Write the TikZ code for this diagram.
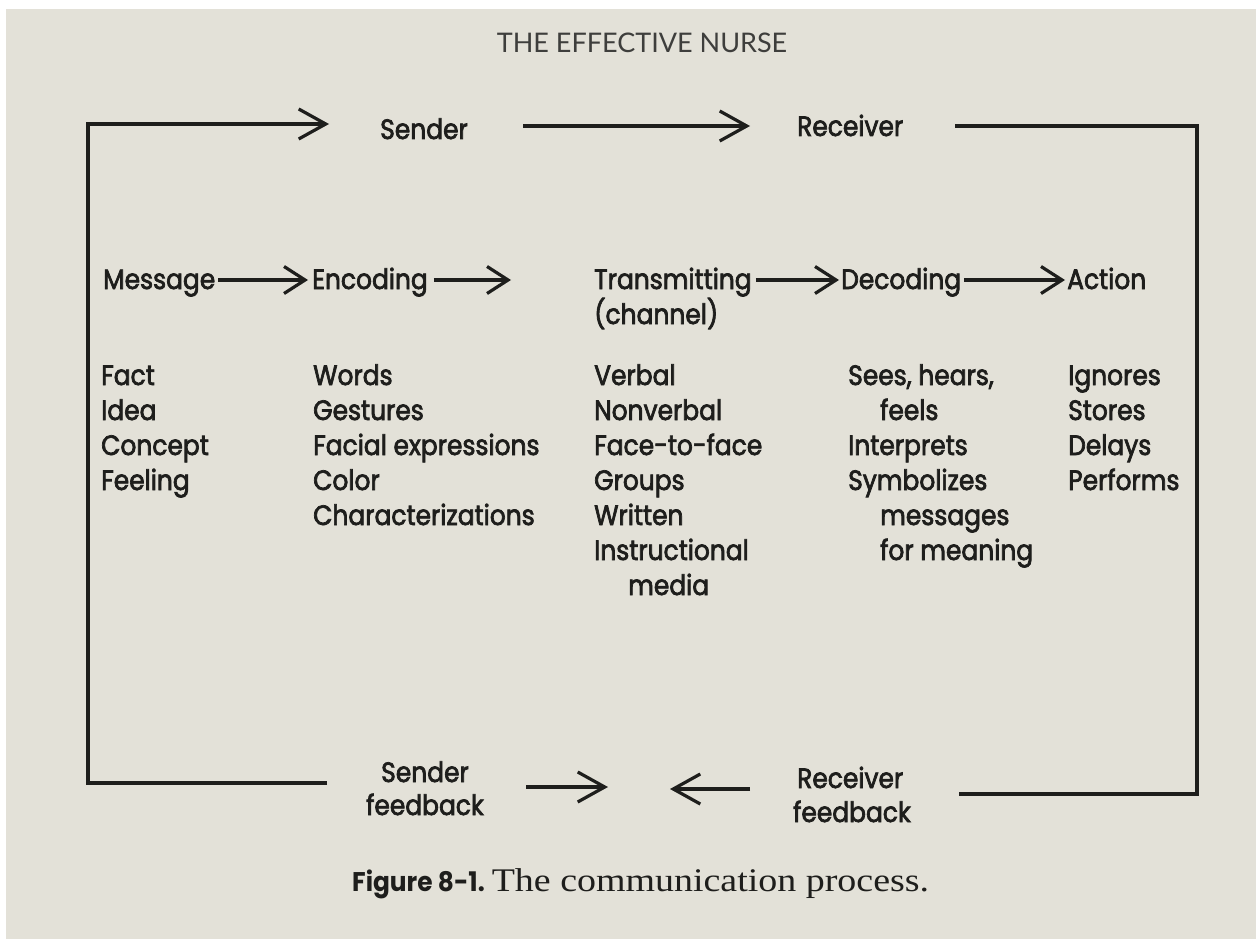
\documentclass[tikz,border=0pt]{standalone}
\usepackage{fontspec}
\usetikzlibrary{arrows.meta}
\newfontfamily\diag{Poppins}[FakeBold=2.5,FakeStretch=0.89]
\newfontfamily\diagb{Poppins}[FakeStretch=0.92]
\newfontfamily\ttl{Lato}
\newfontfamily\capserif{Liberation Serif}[FakeStretch=1.15]
\definecolor{ink}{RGB}{30,30,28}
\definecolor{paper}{RGB}{227,225,216}
\definecolor{titleink}{RGB}{62,62,60}
\begin{document}
\begin{tikzpicture}[x=1pt,y=-1pt,
  lbl/.style={inner sep=0pt,anchor=base west,text=ink,font=\diag\fontsize{28}{30}\selectfont},
  frame/.style={draw=ink,line width=3.2pt,line join=miter},
  bigarrow/.style={-{Straight Barb[length=27pt,width=30pt]}},
  midarrow/.style={-{Straight Barb[length=21pt,width=27pt]}}]
\useasboundingbox (0,0) rectangle (1256,939);
\fill[white] (0,0) rectangle (1256,939);
\fill[paper] (6,9) rectangle (1256,939);

% title
\node[inner sep=0pt,anchor=base,text=titleink,font=\ttl\fontsize{27}{30}\selectfont] (title) at (642,53) {THE EFFECTIVE NURSE};

% top row
\node[lbl] (sender) at (380,139) {Sender};
\node[lbl] (receiver) at (797,136) {Receiver};

% middle row
\node[lbl] (msg) at (103,289) {Message};
\node[lbl] (enc) at (312,289) {Encoding};
\node[lbl] (trans) at (594,289) {Transmitting};
\node[lbl] (chan) at (594,324) {(channel)};
\node[lbl] (dec) at (841,289) {Decoding};
\node[lbl] (act) at (1067,289) {Action};

% column 1
\node[lbl] (c1a) at (101,385) {Fact};
\node[lbl] (c1b) at (101,420) {Idea};
\node[lbl] (c1c) at (101,455) {Concept};
\node[lbl] (c1d) at (101,490) {Feeling};
% column 2
\node[lbl] (c2a) at (313,385) {Words};
\node[lbl] (c2b) at (313,420) {Gestures};
\node[lbl] (c2c) at (313,455) {Facial expressions};
\node[lbl] (c2d) at (313,490) {Color};
\node[lbl] (c2e) at (313,525) {Characterizations};
% column 3
\node[lbl] (c3a) at (594,385) {Verbal};
\node[lbl] (c3b) at (594,420) {Nonverbal};
\node[lbl] (c3c) at (594,455) {Face-to-face};
\node[lbl] (c3d) at (594,490) {Groups};
\node[lbl] (c3e) at (594,525) {Written};
\node[lbl] (c3f) at (594,560) {Instructional};
\node[lbl] (c3g) at (628,595) {media};
% column 4
\node[lbl] (c4a) at (848,385) {Sees, hears,};
\node[lbl] (c4b) at (880,420) {feels};
\node[lbl] (c4c) at (848,455) {Interprets};
\node[lbl] (c4d) at (848,490) {Symbolizes};
\node[lbl] (c4e) at (880,525) {messages};
\node[lbl] (c4f) at (880,560) {for meaning};
% column 5
\node[lbl] (c5a) at (1068,385) {Ignores};
\node[lbl] (c5b) at (1068,420) {Stores};
\node[lbl] (c5c) at (1068,455) {Delays};
\node[lbl] (c5d) at (1068,490) {Performs};

% bottom row
\node[lbl,anchor=base] (sfb1) at (425,782) {Sender};
\node[lbl,anchor=base] (sfb2) at (425,815) {feedback};
\node[lbl] (rfb1) at (797,788) {Receiver};
\node[lbl] (rfb2) at (793,822) {feedback};

% caption
\node[inner sep=0pt,anchor=base west,text=ink] (cap) at (352,891)
  {{\diagb\bfseries\fontsize{27}{30}\selectfont Figure 8-1.}\hspace{7pt}{\capserif\fontsize{33}{36}\selectfont The communication process.}};

% frame and arrows
\coordinate (blend) at (327,783);
\coordinate (bl) at (88,783);
\coordinate (tl) at (88,124);
\coordinate (t1tip) at (329,124);
\coordinate (t2s) at (523,126);
\coordinate (t2tip) at (750,126);
\coordinate (t3s) at (955,126);
\coordinate (tr) at (1197,126);
\coordinate (br) at (1197,794);
\coordinate (brend) at (959,794);
\coordinate (f1s) at (526,787);
\coordinate (f1tip) at (608,787);
\coordinate (f2s) at (750,789);
\coordinate (f2tip) at (670,789);
\coordinate (ry) at (0,280);
\coordinate (a2tip) at (511,280);

\draw[frame,bigarrow] (blend) -- (bl) -- (tl) -- (t1tip);
\draw[frame,bigarrow] (t2s) -- (t2tip);
\draw[frame] (t3s) -- (tr) -- (br) -- (brend);
\draw[frame,bigarrow] (f1s) -- (f1tip);
\draw[frame,bigarrow] (f2s) -- (f2tip);

\draw[frame,midarrow,shorten <=3pt,shorten >=4pt] (msg.east |- ry) -- (enc.west |- ry);
\draw[frame,midarrow,shorten <=6pt] (enc.east |- ry) -- (a2tip);
\draw[frame,midarrow,shorten <=4pt,shorten >=2pt] (trans.east |- ry) -- (dec.west |- ry);
\draw[frame,midarrow,shorten <=3pt,shorten >=2pt] (dec.east |- ry) -- (act.west |- ry);
\end{tikzpicture}
\end{document}
